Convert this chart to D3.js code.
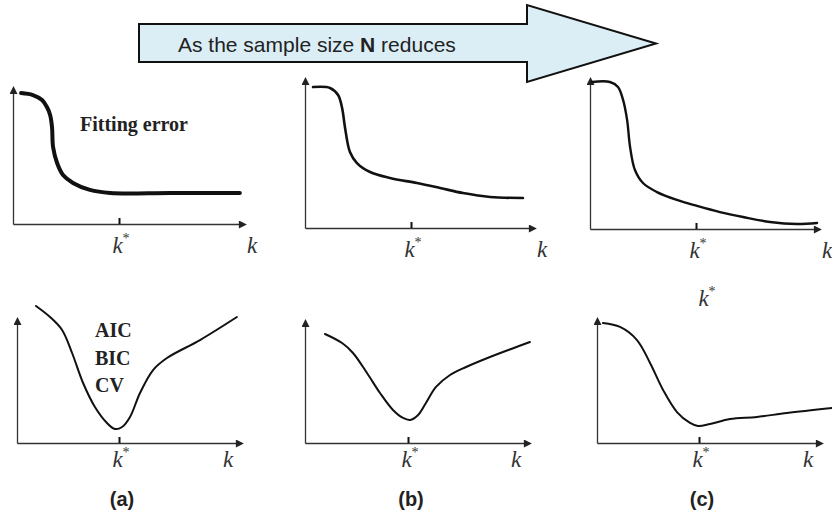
<!DOCTYPE html>
<html>
<head>
<meta charset="utf-8">
<script src="https://cdn.jsdelivr.net/npm/d3@7"></script>
<style>
  body { margin: 0; background: #fff; }
  svg { display: block; }
</style>
</head>
<body>
<div id="chart"></div>
<script>
// values: k runs so that k* = 5, value 0..10 spans the y axis
const kStar = 5;

const kFitA = [0.38, 0.94, 1.37, 1.60, 1.75, 1.84, 1.89, 2.08, 2.36, 2.83, 3.63, 4.58, 7.4, 10.7];
const errFitA = [9.92, 9.77, 9.39, 8.86, 8.26, 7.35, 5.83, 4.62, 3.71, 3.11, 2.58, 2.35, 2.35, 2.35];

const kFitB = [0.38, 1.18, 1.56, 1.75, 1.89, 2.12, 2.45, 3.07, 4.01, 5.28, 6.37, 7.45, 8.73, 10.28];
const errFitB = [9.72, 9.66, 9.17, 8.28, 6.90, 5.24, 4.48, 3.86, 3.45, 3.10, 2.76, 2.41, 2.14, 2.07];

const kFitC = [0.09, 0.94, 1.32, 1.56, 1.75, 1.89, 2.12, 2.50, 3.16, 4.10, 5.05, 6.13, 7.22, 8.49, 9.76, 10.71];
const errFitC = [10.07, 10.07, 9.73, 8.84, 7.47, 5.62, 4.04, 3.15, 2.53, 1.99, 1.58, 1.16, 0.82, 0.48, 0.34, 0.41];

const kCritA = [0.93, 1.62, 2.21, 2.70, 3.24, 3.82, 4.41, 4.80, 5.15, 5.54, 6.03, 6.67, 7.35, 8.97, 10.78];
const critA = [11.42, 10.5, 9.42, 7.5, 5.0, 3.0, 1.67, 1.17, 1.33, 2.17, 4.17, 6.08, 7.08, 8.58, 10.5];

const kCritB = [0.97, 1.80, 2.33, 3.01, 3.64, 4.27, 4.76, 5.10, 5.49, 5.87, 6.36, 7.04, 7.82, 8.98, 10.92];
const critB = [9.24, 8.47, 7.63, 5.93, 4.24, 2.80, 2.12, 1.95, 2.37, 3.39, 4.75, 5.76, 6.44, 7.29, 8.56];

const kCritC = [0.29, 1.13, 1.96, 2.60, 3.24, 3.92, 4.56, 4.95, 5.54, 6.52, 7.84, 9.31, 11.57];
const critC = [10.0, 9.67, 8.58, 6.67, 4.42, 2.58, 1.67, 1.42, 1.58, 2.0, 2.17, 2.5, 2.92];

const panelLabels = ["(a)", "(b)", "(c)"];
const criteria = ["AIC", "BIC", "CV"];

// panel frames (pixels)
var panels = [
  {k: kFitA, v: errFitA, x0: 13, tick: 119, xEnd: 240, y0: 224, yTop: 92, w: 4, kLab: 12, row: 0},
  {k: kFitB, v: errFitB, x0: 305, tick: 411, xEnd: 530, y0: 228, yTop: 83, w: 2.6, kLab: 12, row: 0},
  {k: kFitC, v: errFitC, x0: 590, tick: 696, xEnd: 815, y0: 229, yTop: 83, w: 2.4, kLab: 12, row: 0},
  {k: kCritA, v: critA, x0: 17, tick: 119, xEnd: 237, y0: 443, yTop: 323, w: 2, kLab: -9, row: 1},
  {k: kCritB, v: critB, x0: 305, tick: 408, xEnd: 525, y0: 443, yTop: 325, w: 2, kLab: -9, row: 1},
  {k: kCritC, v: critC, x0: 597, tick: 699, xEnd: 817, y0: 443, yTop: 323, w: 2, kLab: -9, row: 1}
];

var W = 832, H = 515;
var svg = d3.select("#chart").append("svg")
            .attr("width", W)
            .attr("height", H);

svg.append("defs").append("marker")
   .attr("id", "head")
   .attr("markerUnits", "userSpaceOnUse")
   .attr("viewBox", "0 0 10 10")
   .attr("refX", 2).attr("refY", 5)
   .attr("markerWidth", 9).attr("markerHeight", 8)
   .attr("orient", "auto")
   .append("path")
   .attr("d", "M0,0L10,5L0,10Z")
   .attr("fill", "#222");

// big arrow on top
var arrow = {left: 139, right: 527, top: 24, bottom: 62, headTop: 5, headBottom: 82, tip: 656};
var mid = (arrow.top + arrow.bottom) / 2 + 0.5;
svg.append("path")
   .attr("d", "M" + arrow.left + "," + arrow.top + "H" + arrow.right + "V" + arrow.headTop +
              "L" + arrow.tip + "," + mid + "L" + arrow.right + "," + arrow.headBottom +
              "V" + arrow.bottom + "H" + arrow.left + "Z")
   .attr("fill", "#dbeef6")
   .attr("stroke", "#111")
   .attr("stroke-width", 2)
   .attr("stroke-linejoin", "miter");

var arrowText = svg.append("text")
   .attr("x", 178).attr("y", 52)
   .attr("font-family", "Liberation Sans, Arial, sans-serif")
   .attr("font-size", 21)
   .attr("fill", "#222");
arrowText.append("tspan").text("As the sample size ");
arrowText.append("tspan").attr("font-weight", "bold").text("N");
arrowText.append("tspan").text(" reduces");

var serif = "Liberation Serif, Times New Roman, serif";

panels.forEach(function(p, i){
    var x = d3.scaleLinear().domain([0, 2 * kStar]).range([p.x0, p.x0 + 2 * (p.tick - p.x0)]);
    var y = d3.scaleLinear().domain([0, 10]).range([p.y0, p.yTop]);
    var xAxisScale = x.copy().domain([0, x.invert(p.xEnd)]).range([p.x0, p.xEnd]);

    var g = svg.append("g");

    // x axis with the k* tick pointing up
    var gx = g.append("g")
       .attr("transform", "translate(0," + p.y0 + ")")
       .call(d3.axisBottom(xAxisScale).tickValues([kStar]).tickSize(-6).tickSizeOuter(0).tickFormat(""));
    gx.select(".domain").attr("stroke", "#333").attr("stroke-width", 1.3).attr("marker-end", "url(#head)");
    gx.selectAll(".tick line").attr("stroke", "#111").attr("stroke-width", 2);

    // y axis
    var gy = g.append("g")
       .attr("transform", "translate(" + p.x0 + ",0)")
       .call(d3.axisLeft(y).tickValues([]).tickSizeOuter(0));
    gy.select(".domain").attr("stroke", "#333").attr("stroke-width", 1.3).attr("marker-end", "url(#head)");

    // curve
    var line = d3.line()
        .x(function(d){ return x(d[0]); })
        .y(function(d){ return y(d[1]); })
        .curve(d3.curveCatmullRom.alpha(0.5));
    g.append("path")
     .datum(d3.zip(p.k, p.v))
     .attr("d", line)
     .attr("fill", "none")
     .attr("stroke", "#111")
     .attr("stroke-width", p.w)
     .attr("stroke-linecap", "round");

    // k* and k labels
    var base = p.y0 + (p.row === 0 ? 29 : 24);
    var ks = g.append("text")
       .attr("x", x(kStar) + 2).attr("y", base)
       .attr("text-anchor", "middle")
       .attr("font-family", serif).attr("font-style", "italic")
       .attr("font-size", 23).attr("fill", "#333");
    ks.append("tspan").text("k");
    ks.append("tspan").attr("dy", -10).attr("font-size", 14).attr("font-style", "normal").text("*");

    g.append("text")
     .attr("x", p.xEnd + p.kLab).attr("y", base)
     .attr("text-anchor", "middle")
     .attr("font-family", serif).attr("font-style", "italic")
     .attr("font-size", 23).attr("fill", "#333")
     .text("k");

    if (p.row === 1) {
        g.append("text")
         .attr("x", x(kStar) + 3).attr("y", 506)
         .attr("text-anchor", "middle")
         .attr("font-family", "Liberation Sans, Arial, sans-serif")
         .attr("font-weight", "bold").attr("font-size", 20).attr("fill", "#222")
         .text(panelLabels[i - 3]);
    }
});

// annotations
svg.append("text")
   .attr("x", 80).attr("y", 131)
   .attr("font-family", serif).attr("font-weight", "bold")
   .attr("font-size", 20).attr("fill", "#222")
   .text("Fitting error");

svg.selectAll(".crit").data(criteria).enter().append("text")
   .attr("x", 95)
   .attr("y", function(d, i){ return 337 + i * 27.5; })
   .attr("font-family", serif).attr("font-weight", "bold")
   .attr("font-size", 20).attr("fill", "#222")
   .text(function(d){ return d; });

// stray k* label above panel (c) bottom
var stray = svg.append("text")
   .attr("x", 707).attr("y", 306)
   .attr("text-anchor", "middle")
   .attr("font-family", serif).attr("font-style", "italic")
   .attr("font-size", 23).attr("fill", "#333");
stray.append("tspan").text("k");
stray.append("tspan").attr("dy", -10).attr("font-size", 14).attr("font-style", "normal").text("*");
</script>
</body>
</html>
